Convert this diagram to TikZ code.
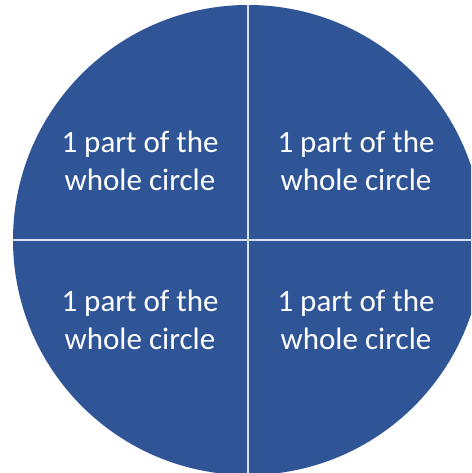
\documentclass[tikz,border=0pt]{standalone}
\usepackage{fontspec}
\setmainfont{Carlito}
\definecolor{pieblue}{HTML}{2F5597}
\definecolor{cutline}{HTML}{D6E2F3}
\tikzset{
  parttext/.style={text=white, align=center, font=\fontsize{31}{38}\selectfont},
  divider/.style={cutline, line width=2pt}
}
\begin{document}
\begin{tikzpicture}[x=1pt, y=1pt]
    \useasboundingbox (0,0) rectangle (471,473);
    \clip (0,0) rectangle (471,473);

    % Circle
    \fill[pieblue] (248,233) circle (235);

    % Dividers
    \coordinate (top) at (248,468);
    \coordinate (bottom) at (248,-2);
    \coordinate (left) at (13,233);
    \coordinate (right) at (483,233);
    \draw[divider] (top) -- (bottom);
    \draw[divider] (left) -- (right);

    % Parts
    \node[parttext] (tl) at (140,312) {1 part of the\\whole circle};
    \node[parttext] (tr) at (356,312) {1 part of the\\whole circle};
    \node[parttext] (bl) at (140,153) {1 part of the\\whole circle};
    \node[parttext] (br) at (356,153) {1 part of the\\whole circle};
\end{tikzpicture}
\end{document}
